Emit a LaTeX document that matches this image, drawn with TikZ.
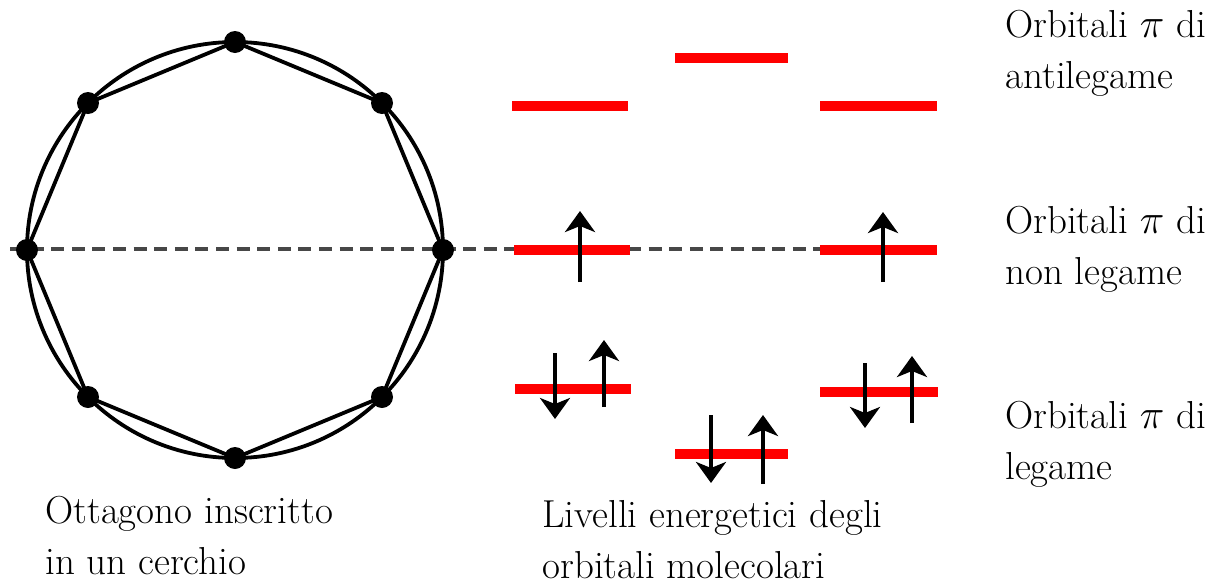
\documentclass[tikz,border=0pt]{standalone}
\usetikzlibrary{arrows.meta}
\begin{document}
\begin{tikzpicture}[x=0.5pt,y=-0.5pt,
  ring/.style={line width=1.9pt,black},
  vertex/.style={circle,fill=black,inner sep=0pt,minimum size=11pt},
  level/.style={red,line width=4.8pt},
  spin/.style={line width=2.4pt,-{Stealth[length=10.5pt,width=15pt,inset=3pt]}},
  axis/.style={black!72,line width=1.6pt,dash pattern=on 6.5pt off 3.8pt},
  lbl/.style={anchor=base west,inner sep=0pt,font=\rmfamily\fontsize{19.5}{25.5}\selectfont}]
\useasboundingbox (0,0) rectangle (1207,579);
% octagon vertices
\coordinate (c) at (235,250);
\coordinate (v0) at (443,250);
\coordinate (v1) at (382,103);
\coordinate (v2) at (235,42);
\coordinate (v3) at (88,103);
\coordinate (v4) at (27,250);
\coordinate (v5) at (88,397);
\coordinate (v6) at (235,458);
\coordinate (v7) at (382,397);
% dashed axis
\coordinate (a0) at (10,249);
\coordinate (a1) at (822,249);
\draw[axis] (a0) -- (a1);
% circle and octagon
\draw[ring] (c) circle[radius=208];
\draw[ring,line join=round] (v0) -- (v1) -- (v2) -- (v3) -- (v4) -- (v5) -- (v6) -- (v7) -- cycle;
\foreach \i in {0,...,7}{\node[vertex] (p\i) at (v\i) {};}
% energy levels
\coordinate (t1) at (675,58);  \coordinate (t2) at (788,58);
\coordinate (u1) at (512,106); \coordinate (u2) at (628,106);
\coordinate (u3) at (820,106); \coordinate (u4) at (937,106);
\coordinate (n1) at (514,250); \coordinate (n2) at (630,250);
\coordinate (n3) at (820,250); \coordinate (n4) at (937,250);
\coordinate (b1) at (515,389); \coordinate (b2) at (631,389);
\coordinate (b3) at (820,392); \coordinate (b4) at (938,392);
\coordinate (l1) at (675,454); \coordinate (l2) at (788,454);
\foreach \a/\b in {t1/t2,u1/u2,u3/u4,n1/n2,n3/n4,b1/b2,b3/b4,l1/l2}
  \draw[level] (\a) -- (\b);
% spins
\coordinate (s1a) at (580,282); \coordinate (s1b) at (580,211);
\coordinate (s2a) at (883,282); \coordinate (s2b) at (883,212);
\coordinate (s3a) at (555,353); \coordinate (s3b) at (555,419);
\coordinate (s4a) at (604,407); \coordinate (s4b) at (604,340);
\coordinate (s5a) at (711,415); \coordinate (s5b) at (711,483);
\coordinate (s6a) at (763,484); \coordinate (s6b) at (763,415);
\coordinate (s7a) at (865,363); \coordinate (s7b) at (865,428);
\coordinate (s8a) at (912,423); \coordinate (s8b) at (912,356);
\foreach \i in {1,...,8}
  \draw[spin] (s\i a) -- (s\i b);
% labels
\node[lbl] (anti) at (1005,37) {\begin{tabular}[t]{@{}l@{}}Orbitali $\pi$ di\\ antilegame\end{tabular}};
\node[lbl] (nonl) at (1005,233) {\begin{tabular}[t]{@{}l@{}}Orbitali $\pi$ di\\ non legame\end{tabular}};
\node[lbl] (leg) at (1005,428) {\begin{tabular}[t]{@{}l@{}}Orbitali $\pi$ di\\ legame\end{tabular}};
\node[lbl] (otta) at (45,523) {\begin{tabular}[t]{@{}l@{}}Ottagono inscritto\\ in un cerchio\end{tabular}};
\node[lbl] (livelli) at (542,527) {\begin{tabular}[t]{@{}l@{}}Livelli energetici degli\\ orbitali molecolari\end{tabular}};
\end{tikzpicture}
\end{document}
